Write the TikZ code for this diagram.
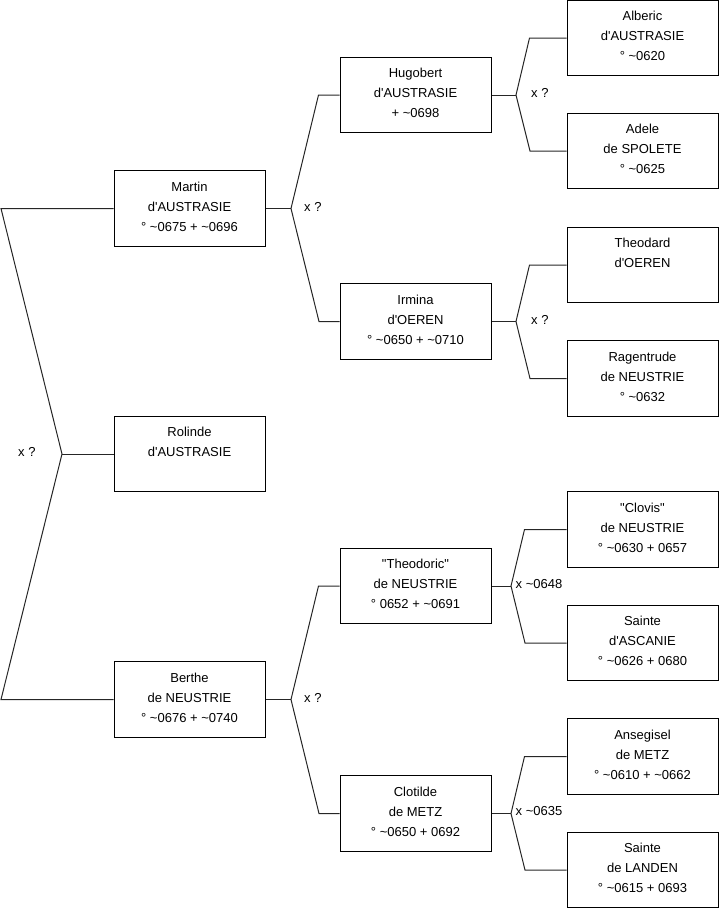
\documentclass[tikz,border=0pt]{standalone}
\usepackage{fontspec}
\newfontfamily\lib{Liberation Sans}
\begin{document}
\begin{tikzpicture}[x=1pt,y=-1pt,
  every node/.style={font=\lib\fontsize{13}{20}\selectfont},
  person/.style={draw=black,line width=1pt,rectangle,minimum width=151pt,minimum height=75.5pt,inner sep=0pt,align=center,
    execute at end node={\rule[-4pt]{0pt}{4pt}}},
  link/.style={draw=black!85,line width=1pt},
  mlabel/.style={anchor=west,inner sep=0pt}]
\useasboundingbox (0,0) rectangle (719,908);
% generation 1
\node[person] (Martin) at (189.5,208.5) {Martin\\d'AUSTRASIE\\° \textasciitilde 0675 + \textasciitilde 0696};
\node[person] (Rolinde) at (189.5,454) {Rolinde\\d'AUSTRASIE\\\mbox{}};
\node[person] (Berthe) at (189.5,699.5) {Berthe\\de NEUSTRIE\\° \textasciitilde 0676 + \textasciitilde 0740};
% generation 2
\node[person] (Hugobert) at (415.5,95) {Hugobert\\d'AUSTRASIE\\+ \textasciitilde 0698};
\node[person] (Irmina) at (415.5,321.5) {Irmina\\d'OEREN\\° \textasciitilde 0650 + \textasciitilde 0710};
\node[person] (Theodoric) at (415.5,586) {"Theodoric"\\de NEUSTRIE\\° 0652 + \textasciitilde 0691};
\node[person] (Clotilde) at (415.5,813.5) {Clotilde\\de METZ\\° \textasciitilde 0650 + 0692};
% generation 3
\node[person] (Alberic) at (642.5,38) {Alberic\\d'AUSTRASIE\\° \textasciitilde 0620};
\node[person] (Adele) at (642.5,151) {Adele\\de SPOLETE\\° \textasciitilde 0625};
\node[person] (Theodard) at (642.5,265) {Theodard\\d'OEREN\\\mbox{}};
\node[person] (Ragentrude) at (642.5,378.5) {Ragentrude\\de NEUSTRIE\\° \textasciitilde 0632};
\node[person] (Clovis) at (642.5,529.5) {"Clovis"\\de NEUSTRIE\\° \textasciitilde 0630 + 0657};
\node[person] (Ascanie) at (642.5,643) {Sainte\\d'ASCANIE\\° \textasciitilde 0626 + 0680};
\node[person] (Ansegisel) at (642.5,756.5) {Ansegisel\\de METZ\\° \textasciitilde 0610 + \textasciitilde 0662};
\node[person] (Landen) at (642.5,870) {Sainte\\de LANDEN\\° \textasciitilde 0615 + 0693};
% root fork
\coordinate (fR) at (62,454);
\coordinate (rA) at (1,208.5);
\coordinate (rB) at (1,699.5);
\draw[link] (Martin.west) -- (rA) -- (fR) -- (rB) -- (Berthe.west);
\draw[link] (fR) -- (Rolinde.west);
\node[mlabel] (lR) at (18,452) {x ?};
% Martin fork
\coordinate (fM) at (291,208.5);
\draw[link] (Martin.east) -- (fM);
\draw[link] (Hugobert.west) -- ++(-21,0) -- (fM) -- ++(28,113) -- (Irmina.west);
\node[mlabel] (lM) at (304,207) {x ?};
% Berthe fork
\coordinate (fB) at (291,699.5);
\draw[link] (Berthe.east) -- (fB);
\draw[link] (Theodoric.west) -- ++(-21,0) -- (fB) -- ++(28,114) -- (Clotilde.west);
\node[mlabel] (lB) at (304,698) {x ?};
% Hugobert fork
\coordinate (fH) at (516,95);
\draw[link] (Hugobert.east) -- (fH);
\draw[link] (Alberic.west) -- ++(-37,0) -- (fH) -- ++(14,56) -- (Adele.west);
\node[mlabel] (lH) at (531,93) {x ?};
% Irmina fork
\coordinate (fI) at (516,321.5);
\draw[link] (Irmina.east) -- (fI);
\draw[link] (Theodard.west) -- ++(-37,0) -- (fI) -- ++(14,57) -- (Ragentrude.west);
\node[mlabel] (lI) at (531,320) {x ?};
% Theodoric fork
\coordinate (fT) at (511,586);
\draw[link] (Theodoric.east) -- (fT);
\draw[link] (Clovis.west) -- ++(-42,0) -- (fT) -- ++(14,57) -- (Ascanie.west);
\node[mlabel] (lT) at (515.5,584) {x \textasciitilde 0648};
% Clotilde fork
\coordinate (fC) at (511,813.5);
\draw[link] (Clotilde.east) -- (fC);
\draw[link] (Ansegisel.west) -- ++(-42,0) -- (fC) -- ++(14,56.5) -- (Landen.west);
\node[mlabel] (lC) at (515.5,811) {x \textasciitilde 0635};
\end{tikzpicture}
\end{document}
